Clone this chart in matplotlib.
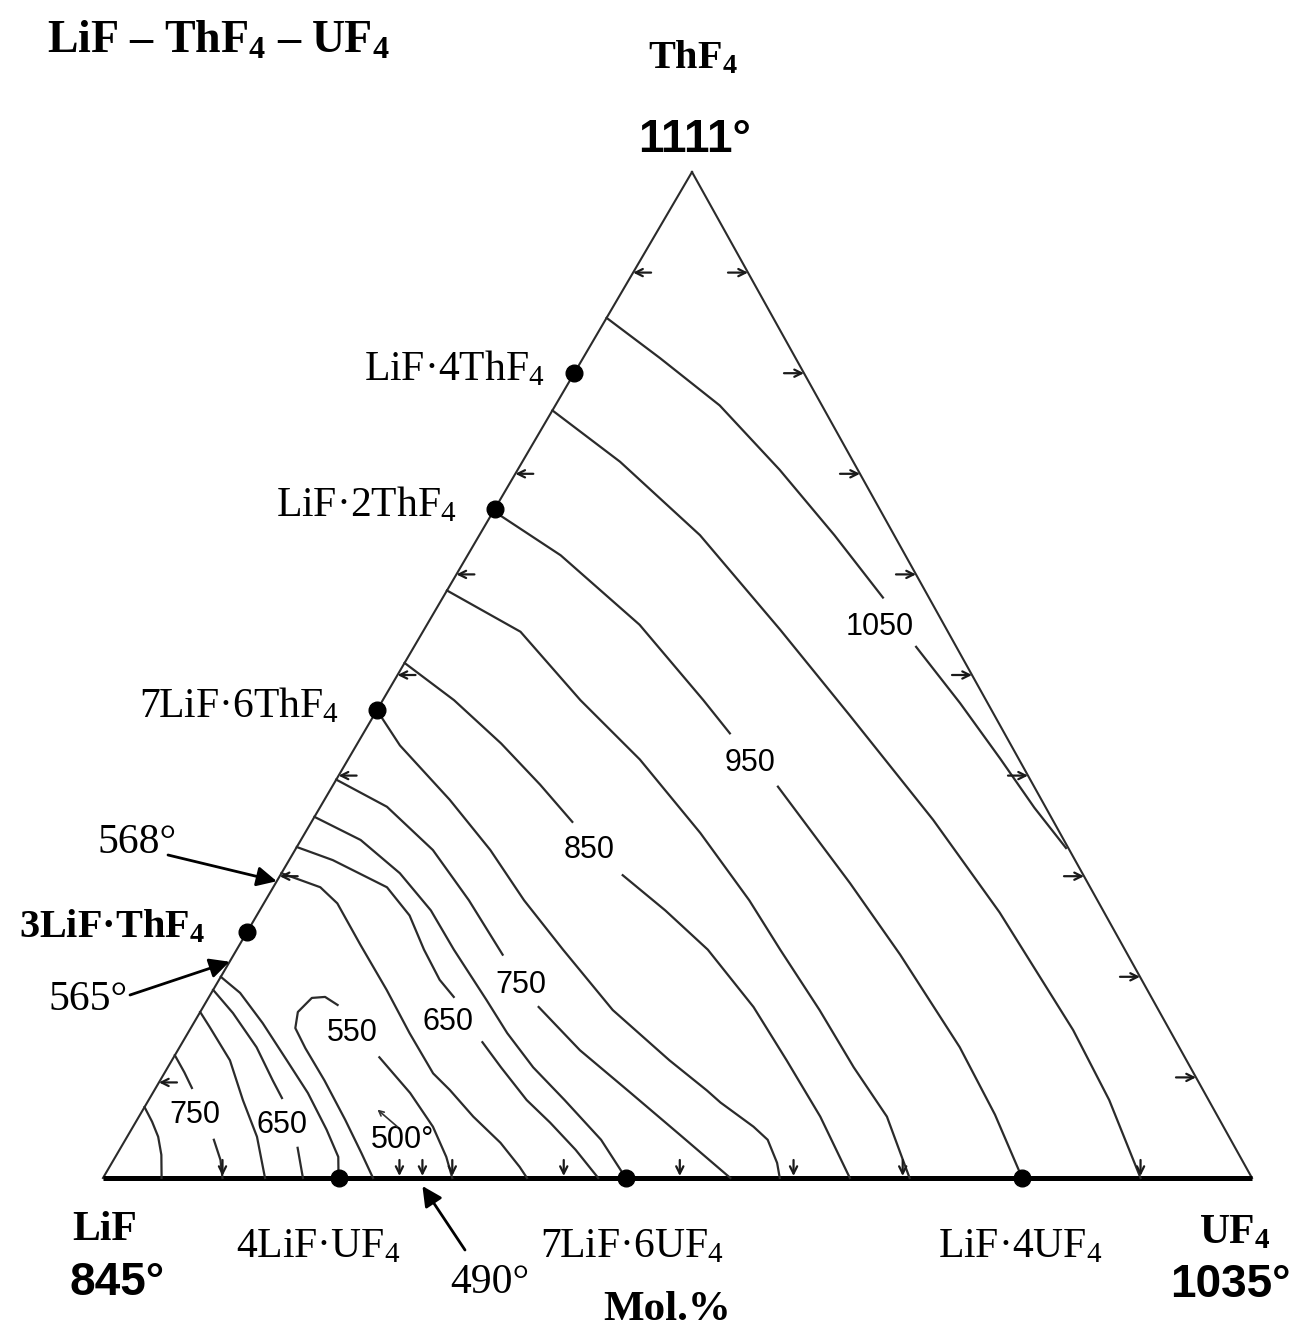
import numpy as np
import matplotlib
matplotlib.use("Agg")
import matplotlib.pyplot as plt

plt.rcParams['mathtext.fontset'] = 'custom'
plt.rcParams['mathtext.rm'] = 'Liberation Serif'
plt.rcParams['mathtext.bf'] = 'Liberation Serif:bold'
plt.rcParams['mathtext.it'] = 'Liberation Serif:italic'

nan = np.nan

# ---------------- data (mol %) ----------------
# compounds on the LiF-ThF4 edge (mol % ThF4) and on the LiF-UF4 edge (mol % UF4)
thf4_compounds = ['LiF·4ThF$_4$', 'LiF·2ThF$_4$', '7LiF·6ThF$_4$', '3LiF·ThF$_\\mathbf{4}$']
thf4_compound_pct = [80.0, 66.5, 46.5, 24.5]
uf4_compounds = ['4LiF·UF$_4$', '7LiF·6UF$_4$', 'LiF·4UF$_4$']
uf4_compound_pct = [20.5, 45.5, 80.0]

# eutectics: (ThF4 %, UF4 %)
eut_labels = ['568°', '565°', '490°']
eut_th = [29.5, 21.5, 0.0]
eut_u = [0.0, 0.0, 27.8]

# isotherms (ThF4 %, UF4 %); nan = gap left for a label
k1_th = [85.5, 81.5, 76.8, 70.4, 63.9, 57.7, nan, 52.8, 47.2, 41.7, 36.8, 32.8]
k1_u = [0, 6.7, 14.3, 22.8, 30.9, 38.3, nan, 43.7, 50.4, 56.7, 62.2, 67.0]
k2_th = [76.3, 71.2, 63.9, 54.5, 46.0, 35.6, 26.4, 14.7, 7.75, 0]
k2_u = [0, 8.5, 19.2, 31.0, 41.4, 54.0, 64.5, 76.9, 83.6, 90.3]
k3_th = [66.3, 61.9, 55.0, 47.5, 44.2, nan, 38.9, 29.3, 22.2, 13.0, 6.3, 0]
k3_u = [0, 8.1, 18.5, 27.9, 31.9, nan, 38.8, 50.0, 58.0, 67.9, 74.4, 80.0]
k4_th = [58.4, 54.3, 47.5, 41.6, 34.3, 27.6, 22.7, 16.7, 11.0, 6.1, 0]
k4_u = [0, 8.5, 17.2, 25.4, 34.4, 42.1, 47.3, 53.8, 59.7, 65.1, 70.2]
k5_th = [51.2, 47.5, 43.2, 39.1, 35.4, nan, 30.1, 26.6, 22.7, 17.0, 11.7, 6.1, 0]
k5_u = [0, 6.2, 12.5, 18.0, 22.7, nan, 29.8, 35.3, 41.0, 47.9, 53.5, 59.3, 65.0]
k6_th = [46.5, 43.0, 37.6, 32.6, 27.6, 22.7, 16.7, 11.7, 8.7, 7.5, 5.1, 3.8, 1.5, 0]
k6_u = [0, 3.8, 10.9, 17.0, 22.5, 28.4, 35.8, 43.3, 48.1, 49.9, 54.0, 55.9, 57.9, 58.9]
k7_th = [39.6, 36.9, 32.6, 27.6, 22.2, nan, 17.0, 12.7, 8.45, 4.3, 0]
k7_u = [0, 5.8, 12.0, 17.7, 23.4, nan, 29.2, 35.0, 41.6, 48.0, 54.6]
k8_th = [35.9, 33.6, 30.3, 26.6, 22.7, 17.7, 14.4, 11.0, 7.75, 3.8, 0]
k8_u = [0, 5.2, 10.3, 14.9, 18.9, 24.3, 27.8, 31.8, 36.2, 41.4, 45.5]
k9_th = [32.9, 31.6, 28.9, 26.1, 22.7, 19.7, 18.0, nan, 13.5, 11.0, 7.75, 5.5, 2.8, 0]
k9_u = [0, 3.8, 9.9, 13.3, 16.3, 19.2, 21.3, nan, 26.1, 29.0, 32.9, 36.1, 39.7, 43.1]
k10_th = [30.3, 28.9, 27.3, 23.2, 18.7, 14.4, 10.4, 8.75, 6.1, 3.5, 1.1, 0]
k10_u = [0, 4.1, 6.4, 10.5, 15.1, 19.3, 23.4, 25.7, 29.1, 32.8, 35.7, 36.9]
ke_th = [20.0, 18.4, 15.4, 11.7, 8.45, 4.8, 2.1, 0]
ke_u = [0, 2.5, 6.0, 10.0, 13.5, 17.0, 19.4, 20.5]
kd_th = [18.7, 16.4, 13.0, 9.7, 7.95, nan, 3.0, 0]
kd_u = [0, 2.9, 6.7, 9.8, 11.5, nan, 15.4, 17.4]
kc_th = [16.5, 15.0, 11.7, 7.75, 4.1, 0]
kc_u = [0, 1.6, 5.05, 8.2, 11.3, 14.1]
kb_th = [12.2, 10.5, 8.95, nan, 3.8, 1.8, 0]
kb_u = [0, 1.7, 3.15, nan, 7.7, 9.3, 10.4]
ka_th = [7.05, 5.6, 4.1, 2.3, 0]
ka_u = [0, 1.4, 2.7, 3.9, 5.1]
hook_th = [17.2, 18.0, 17.9, 16.5, 14.9, 12.9, 9.7, 5.8, 2.5, 0]
hook_u = [11.6, 10.1, 9.0, 8.5, 9.1, 11.0, 14.3, 18.1, 21.2, 23.5]
k550_th = [12.0, 8.45, 5.1, 2.1, 0]
k550_u = [17.9, 22.4, 26.1, 28.8, 30.4]

isotherms = [(k1_th, k1_u), (k2_th, k2_u), (k3_th, k3_u), (k4_th, k4_u),
             (k5_th, k5_u), (k6_th, k6_u), (k7_th, k7_u), (k8_th, k8_u),
             (k9_th, k9_u), (k10_th, k10_u), (ke_th, ke_u), (kd_th, kd_u),
             (kc_th, kc_u), (kb_th, kb_u), (ka_th, ka_u), (hook_th, hook_u),
             (k550_th, k550_u)]

# isotherm labels
iso_labels = ['1050', '950', '850', '750', '650', '550', '750', '650', '500°']
iso_lab_th = [54.8, 41.25, 32.6, 19.2, 15.5, 14.4, 6.26, 5.27, 3.78]
iso_lab_u = [39.5, 35.2, 25.6, 26.5, 22.1, 14.3, 4.8, 12.9, 24.1]

# small direction arrows on the edges
left_arrow_th = [90, 70, 60, 50, 40, 30, 9.5]
right_arrow_th = [90, 80, 70, 60, 50, 40, 30, 20, 10]
bottom_arrow_u = [10.4, 25.8, 27.8, 30.4, 40.1, 50.2, 60.1, 69.6, 90.3]

# ---------------- ternary projection (figure pixel space) ----------------
LIF_X, LIF_Y = 103.0, 1178.0
SIDE, APEX_DX, HEIGHT = 1149.0, 589.0, 1006.0


def proj(th, u):
    th = np.asarray(th, dtype=float) / 100.0
    u = np.asarray(u, dtype=float) / 100.0
    return LIF_X + SIDE * u + APEX_DX * th, LIF_Y - HEIGHT * th


fig = plt.figure(figsize=(13.10, 13.39), dpi=100)
ax = fig.add_axes([0, 0, 1, 1])
ax.set_xlim(0, 1310)
ax.set_ylim(1339, 0)
ax.axis('off')

LC = '#2b2b2b'
# triangle
vx, vy = proj([0, 100, 0], [0, 0, 100])
ax.plot([vx[0], vx[1]], [vy[0], vy[1]], color=LC, lw=1.5)
ax.plot([vx[1], vx[2]], [vy[1], vy[2]], color=LC, lw=1.5)
ax.plot([vx[0], vx[2]], [vy[0], vy[2]], color='black', lw=3.6, solid_capstyle='butt')

# isotherms
for th, u in isotherms:
    x, y = proj(th, u)
    ax.plot(x, y, color=LC, lw=1.6)

# edge arrows
ap_small = dict(arrowstyle='->', lw=1.6, color='#1a1a1a', mutation_scale=13,
                shrinkA=0, shrinkB=0)
for t in left_arrow_th:
    x, y = proj(t, 0)
    ax.annotate('', xy=(x, y), xytext=(x + 18, y), arrowprops=ap_small)
for t in right_arrow_th:
    x, y = proj(t, 100 - t)
    ax.annotate('', xy=(x, y), xytext=(x - 20, y), arrowprops=ap_small)
for uu in bottom_arrow_u:
    x, y = proj(0, uu)
    ax.annotate('', xy=(x, y - 2), xytext=(x, y - 18), arrowprops=ap_small)

# isotherm labels
for lab, t, uu in zip(iso_labels, iso_lab_th, iso_lab_u):
    x, y = proj(t, uu)
    ax.text(x, y, lab, ha='center', va='center', fontsize=22,
            family='Liberation Sans', color='black')

# 500° small arrow
xa, ya = proj([5.1, 6.8], [23.0, 20.4])
ax.annotate('', xy=(xa[1], ya[1]), xytext=(xa[0], ya[0]),
            arrowprops=dict(arrowstyle='->', lw=1.2, color='#333', mutation_scale=9,
                            shrinkA=0, shrinkB=0))

# compounds
cx, cy = proj(thf4_compound_pct, [0] * len(thf4_compound_pct))
ax.plot(cx, cy, 'o', color='black', ms=12)
left_lab_dx = [30, 38, 38, 42]
for i, (lab, x, y) in enumerate(zip(thf4_compounds, cx, cy)):
    bold = i == 3
    ax.text(x - left_lab_dx[i], y - 4, lab, ha='right', va='center',
            fontsize=30 if not bold else 29, family='Liberation Serif',
            fontweight='bold' if bold else 'normal')
bx, by = proj([0] * len(uf4_compound_pct), uf4_compound_pct)
ax.plot(bx, by, 'o', color='black', ms=12)
bot_lab_dx = [-20, 6, -2]
for lab, x, y, dx in zip(uf4_compounds, bx, by, bot_lab_dx):
    ax.text(x + dx, 1247, lab, ha='center', va='center', fontsize=30,
            family='Liberation Serif')

# eutectic arrows
ap_big = dict(arrowstyle='-|>', lw=2.0, color='black', mutation_scale=30,
              shrinkA=0, shrinkB=0)
ex, ey = proj(eut_th, eut_u)
eut_tail = [(168, 855), (130, 995), (465, 1250)]
eut_lab_pos = [(137, 843), (88, 1000), (490, 1283)]
for lab, x, y, tail, lp in zip(eut_labels, ex, ey, eut_tail, eut_lab_pos):
    ax.annotate('', xy=(x, y + (8 if y > 1170 else 0)), xytext=tail, arrowprops=ap_big)
    ax.text(lp[0], lp[1], lab, ha='center', va='center', fontsize=30,
            family='Liberation Serif')

# vertex labels
ax.text(47, 42, 'LiF – ThF$_\\mathbf{4}$ – UF$_\\mathbf{4}$', ha='left', va='center',
        fontsize=33, family='Liberation Serif', fontweight='bold')
ax.text(693, 58, 'ThF$_\\mathbf{4}$', ha='center', va='center', fontsize=29,
        family='Liberation Serif', fontweight='bold')
ax.text(695, 140, '1111°', ha='center', va='center', fontsize=33,
        family='Liberation Sans', fontweight='bold')
ax.text(105, 1230, 'LiF', ha='center', va='center', fontsize=30,
        family='Liberation Serif', fontweight='bold')
ax.text(117, 1283, '845°', ha='center', va='center', fontsize=33,
        family='Liberation Sans', fontweight='bold')
ax.text(1235, 1233, 'UF$_\\mathbf{4}$', ha='center', va='center', fontsize=30,
        family='Liberation Serif', fontweight='bold')
ax.text(1230, 1285, '1035°', ha='center', va='center', fontsize=33,
        family='Liberation Sans', fontweight='bold')
ax.text(667, 1310, 'Mol.%', ha='center', va='center', fontsize=31,
        family='Liberation Serif', fontweight='bold')

fig.savefig('out.png', dpi=100, facecolor='white')
